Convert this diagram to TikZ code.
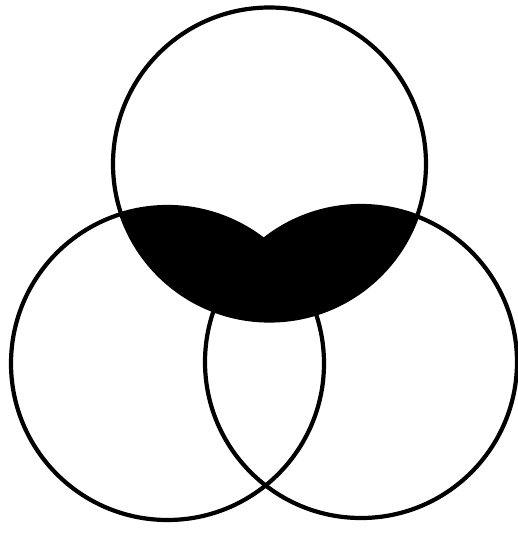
\documentclass[tikz,border=0pt]{standalone}
\usepackage{tikz}
\usepackage{xcolor}
\definecolor{paper}{HTML}{FFFFFF}
\definecolor{ink}{HTML}{000000}
\tikzset{
  setring/.style={draw=ink,line width=4.2pt},
  shaded/.style={fill=ink}
}
\begin{document}
\begin{tikzpicture}[x=1pt,y=-1pt]
      \useasboundingbox[fill=paper] (0,0) rectangle (518,536);
      \coordinate (topC) at (269.5,164);
      \coordinate (leftC) at (167.5,363.5);
      \coordinate (rightC) at (361,362);
      % shaded part: top set meets either lower set
      \begin{scope}
        \clip (topC) circle (156.5pt);
        \fill[shaded] (leftC) circle (156.5pt);
        \fill[shaded] (rightC) circle (156pt);
      \end{scope}
      \draw[setring] (topC) circle (156.5pt);
      \draw[setring] (leftC) circle (156.5pt);
      \draw[setring] (rightC) circle (156pt);
    \end{tikzpicture}
\end{document}
